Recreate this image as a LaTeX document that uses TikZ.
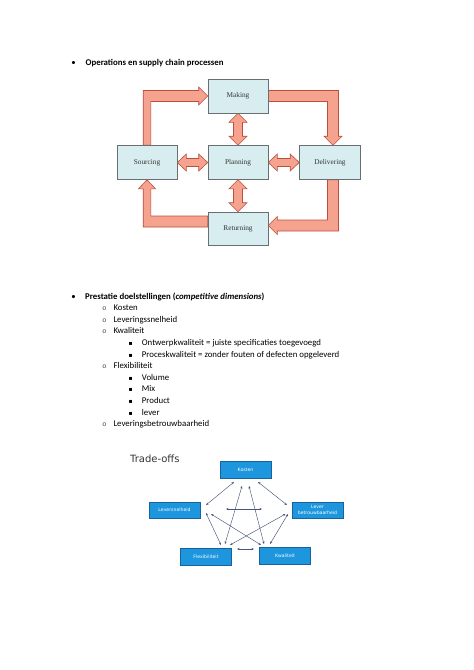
\documentclass[tikz,border=0pt]{standalone}
\usepackage{fontspec}
\setmainfont{Carlito}
\newfontfamily\scserif{Liberation Serif}
\newfontfamily\dvsans{DejaVu Sans}
\newfontfamily\lmono{Liberation Mono}
\usetikzlibrary{calc,arrows.meta,backgrounds}
\definecolor{boxfill}{RGB}{216,237,240}
\definecolor{boxdraw}{RGB}{105,110,112}
\definecolor{arrfill}{RGB}{245,163,142}
\definecolor{arrdraw}{RGB}{188,78,60}
\definecolor{tblue}{RGB}{30,150,222}
\definecolor{tblueb}{RGB}{24,98,158}
\definecolor{tline}{RGB}{70,85,120}
\tikzset{
  scbox/.style={draw=boxdraw, fill=boxfill, line width=0.6pt, minimum width=60, minimum height=34, inner sep=0, font=\scserif\fontsize{7.3}{9}\selectfont, text=black!80},
  fat/.style={fill=arrfill, draw=arrdraw, line width=0.6pt, line join=miter},
  tbox/.style={draw=tblueb, fill=tblue, line width=0.5pt, minimum width=51, minimum height=16.5, inner sep=0, text=white, font=\dvsans\fontsize{4.6}{5.4}\selectfont, align=center},
  tarr/.style={draw=tline, line width=0.45pt, {Stealth[length=2.6pt,width=2.2pt]}-{Stealth[length=2.6pt,width=2.2pt]}},
  txt/.style={anchor=base west, inner sep=0, font=\fontsize{8.8}{10}\selectfont},
  bul/.style={anchor=base, inner sep=0, font=\fontsize{8.8}{10}\selectfont},
  obul/.style={anchor=base, inner sep=0, text=black!75, font=\lmono\fontsize{6.8}{8}\selectfont},
  sqbul/.style={anchor=base, inner sep=0, font=\dvsans\fontsize{6}{8}\selectfont}
}
\begin{document}
\begin{tikzpicture}[x=1pt,y=-1pt]
\useasboundingbox (0,0) rectangle (474,670);

% ---------- heading 1
\node[bul] (b1) at (73.5,65) {•};
\node[txt] (h1) at (85.5,65) {\textbf{Operations en supply chain processen}};

% ---------- supply chain diagram
\node[scbox] (M) at (238,96) {Making};
\node[scbox] (S) at (147,162.5) {Sourcing};
\node[scbox] (P) at (238,162.5) {Planning};
\node[scbox, minimum width=61] (D) at (330,162.5) {Delivering};
\node[scbox, minimum height=33] (R) at (238,228.5) {Returning};

\coordinate (s1) at (S.north);
\coordinate (t1) at (M.west);
\coordinate (k1) at (s1 |- t1);
\coordinate (s2) at (M.east);
\coordinate (t2) at ($(D.north)+(3,0)$);
\coordinate (k2) at (t2 |- s2);
\coordinate (s3) at ($(D.south)+(3,0)$);
\coordinate (t3) at ($(R.east)+(0,-3)$);
\coordinate (k3) at (s3 |- t3);
\coordinate (s4) at ($(R.west)+(0,-7)$);
\coordinate (t4) at (S.south);
\coordinate (k4) at (t4 |- s4);

\begin{pgfonlayer}{background}
% Sourcing -> Making
\draw[fat] ($(s1)+(-3.8,0)$) -- ($(k1)+(-3.8,-5.5)$) -- ($(t1)+(-9,-5.5)$) -- ($(t1)+(-9,-9)$) -- (t1)
  -- ($(t1)+(-9,9)$) -- ($(t1)+(-9,5.5)$) -- ($(k1)+(3.8,5.5)$) -- ($(s1)+(3.8,0)$) -- cycle;
% Making -> Delivering
\draw[fat] ($(s2)+(0,-5.5)$) -- ($(k2)+(5.5,-5.5)$) -- ($(t2)+(5.5,-9)$) -- ($(t2)+(9,-9)$) -- (t2)
  -- ($(t2)+(-9,-9)$) -- ($(t2)+(-5.5,-9)$) -- ($(k2)+(-5.5,5.5)$) -- ($(s2)+(0,5.5)$) -- cycle;
% Delivering -> Returning
\draw[fat] ($(s3)+(5.5,0)$) -- ($(k3)+(5.5,5.5)$) -- ($(t3)+(9,5.5)$) -- ($(t3)+(9,9)$) -- (t3)
  -- ($(t3)+(9,-9)$) -- ($(t3)+(9,-5.5)$) -- ($(k3)+(-5.5,-5.5)$) -- ($(s3)+(-5.5,0)$) -- cycle;
% Returning -> Sourcing
\draw[fat] ($(s4)+(0,-5.5)$) -- ($(k4)+(3.8,-5.5)$) -- ($(t4)+(3.8,9)$) -- ($(t4)+(8.5,9)$) -- (t4)
  -- ($(t4)+(-8.5,9)$) -- ($(t4)+(-3.8,9)$) -- ($(k4)+(-3.8,5.5)$) -- ($(s4)+(0,5.5)$) -- cycle;
% double arrows
\draw[fat] (M.south) -- ++(9,9) -- ++(-4.5,0) -- ($(P.north)+(4.5,-9)$) -- ++(4.5,0) -- (P.north)
  -- ++(-9,-9) -- ++(4.5,0) -- ($(M.south)+(-4.5,9)$) -- ++(-4.5,0) -- cycle;
\draw[fat] (P.south) -- ++(9,9) -- ++(-4.5,0) -- ($(R.north)+(4.5,-9)$) -- ++(4.5,0) -- (R.north)
  -- ++(-9,-9) -- ++(4.5,0) -- ($(P.south)+(-4.5,9)$) -- ++(-4.5,0) -- cycle;
\draw[fat] (S.east) -- ++(9,-8.5) -- ++(0,4.5) -- ($(P.west)+(-9,-4)$) -- ++(0,-4.5) -- (P.west)
  -- ++(-9,8.5) -- ++(0,-4.5) -- ($(S.east)+(9,4)$) -- ++(0,4.5) -- cycle;
\draw[fat] (P.east) -- ++(9,-8.5) -- ++(0,4.5) -- ($(D.west)+(-9,-4)$) -- ++(0,-4.5) -- (D.west)
  -- ++(-9,8.5) -- ++(0,-4.5) -- ($(P.east)+(9,4)$) -- ++(0,4.5) -- cycle;
\end{pgfonlayer}

% ---------- heading 2 and list
\node[bul] (b2) at (73.5,299) {•};
\node[txt] (h2) at (85,299) {\textbf{Prestatie doelstellingen (\textit{competitive dimensions})}};
\node[obul] (o1) at (104.5,310.6) {o};
\node[txt] (l1) at (113.3,310.6) {Kosten};
\node[obul] (o2) at (104.5,322.2) {o};
\node[txt] (l2) at (113.3,322.2) {Leveringssnelheid};
\node[obul] (o3) at (104.5,333.8) {o};
\node[txt] (l3) at (113.3,333.8) {Kwaliteit};
\node[sqbul] (q1) at (130.7,345.4) {▪};
\node[txt] (l4) at (141.7,345.4) {Ontwerpkwaliteit = juiste specificaties toegevoegd};
\node[sqbul] (q2) at (130.7,357) {▪};
\node[txt] (l5) at (141.7,357) {Proceskwaliteit = zonder fouten of defecten opgeleverd};
\node[obul] (o4) at (104.5,368.6) {o};
\node[txt] (l6) at (113.3,368.6) {Flexibiliteit};
\node[sqbul] (q3) at (130.7,380.2) {▪};
\node[txt] (l7) at (141.7,380.2) {Volume};
\node[sqbul] (q4) at (130.7,391.8) {▪};
\node[txt] (l8) at (141.7,391.8) {Mix};
\node[sqbul] (q5) at (130.7,403.4) {▪};
\node[txt] (l9) at (141.7,403.4) {Product};
\node[sqbul] (q6) at (130.7,415) {▪};
\node[txt] (l10) at (141.7,415) {lever};
\node[obul] (o5) at (104.5,426.6) {o};
\node[txt] (l11) at (113.3,426.6) {Leveringsbetrouwbaarheid};

% ---------- trade-offs
\node[anchor=base west, inner sep=0, text=black!80, font=\dvsans\fontsize{10}{12}\selectfont] (tt) at (130,462.7) {Trade-offs};
\node[tbox] (K) at (245.5,469.5) {Kosten};
\node[tbox] (L) at (174.5,510) {Leversnelheid};
\node[tbox] (B) at (317.5,510) {Lever\\betrouwbaarheid};
\node[tbox] (F) at (206,556.5) {Flexibiliteit};
\node[tbox] (Q) at (285,555.5) {Kwaliteit};

\coordinate (kl1) at (234,482);   \coordinate (kl2) at (206,505);
\coordinate (kb1) at (258,482);   \coordinate (kb2) at (287,505);
\coordinate (kf1) at (242,486);   \coordinate (kf2) at (225,544);
\coordinate (kq1) at (249,486);   \coordinate (kq2) at (264,544);
\coordinate (lf1) at (206,513);   \coordinate (lf2) at (221,545);
\coordinate (lq1) at (211,514);   \coordinate (lq2) at (261,545);
\coordinate (bf1) at (285.5,514); \coordinate (bf2) at (230,545);
\coordinate (bq1) at (288,514);   \coordinate (bq2) at (270,544);
\coordinate (lb1) at (226,509);   \coordinate (lb2) at (262,509);
\coordinate (fq1) at (237,549);   \coordinate (fq2) at (254,549);

\draw[tarr] (kl1) -- (kl2);
\draw[tarr] (kb1) -- (kb2);
\draw[tarr] (kf1) -- (kf2);
\draw[tarr] (kq1) -- (kq2);
\draw[tarr] (lf1) -- (lf2);
\draw[tarr] (lq1) -- (lq2);
\draw[tarr] (bf1) -- (bf2);
\draw[tarr] (bq1) -- (bq2);
\draw[tarr] (lb1) -- (lb2);
\draw[tarr] (fq1) -- (fq2);
\end{tikzpicture}
\end{document}
